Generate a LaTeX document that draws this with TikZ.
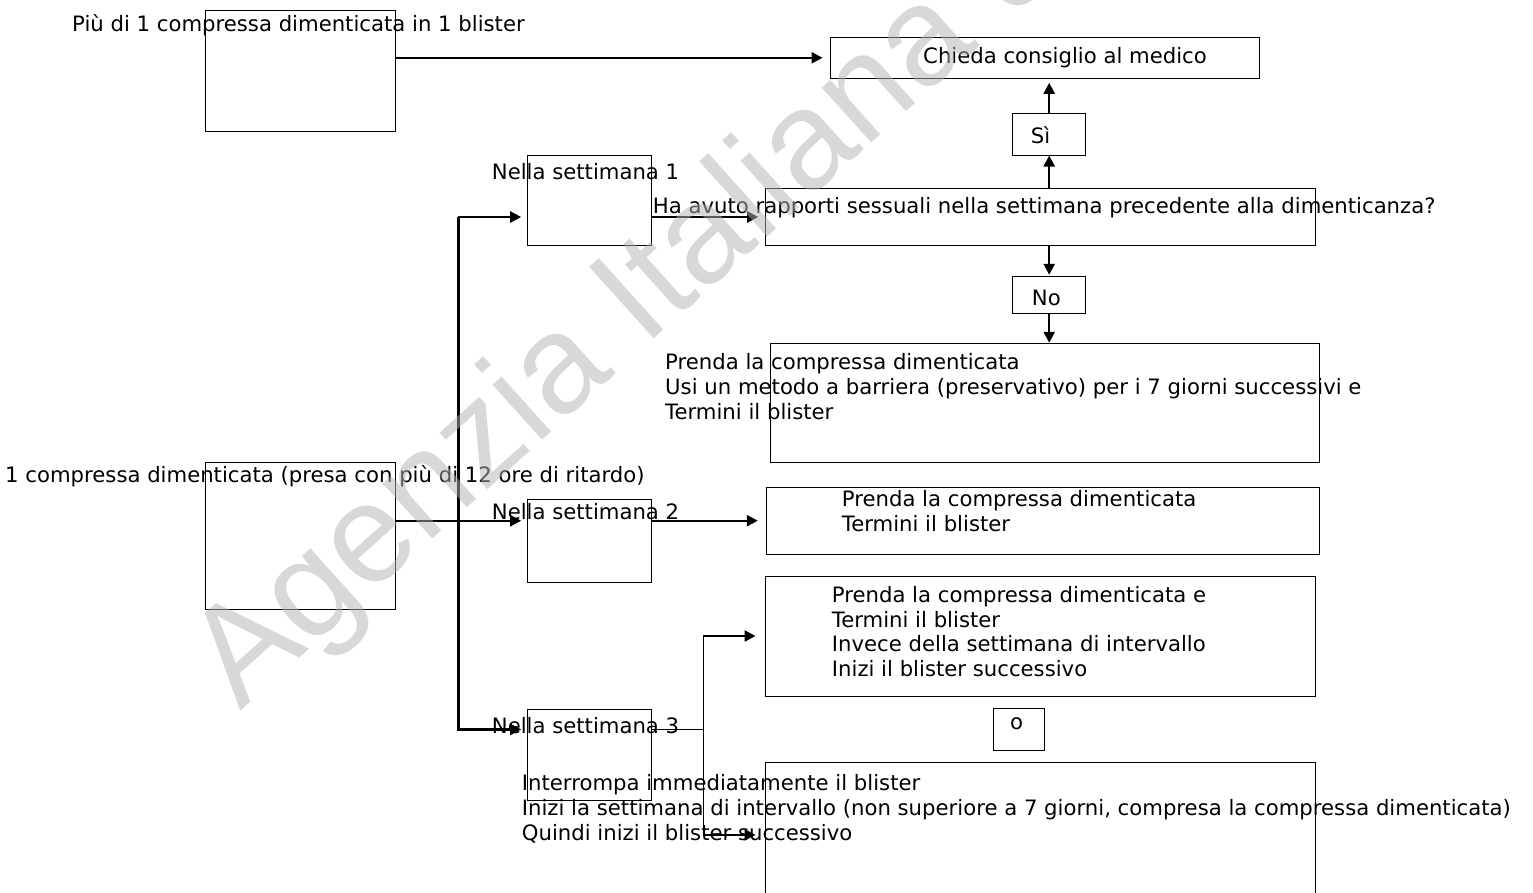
\documentclass[tikz,border=0pt]{standalone}
\usepackage{fontspec}
\setmainfont{DejaVu Sans}
\newfontfamily\wmfont{Liberation Sans}
\usetikzlibrary{arrows.meta}

\tikzset{
	kasten/.style={draw=black, line width=1pt, inner sep=0pt},
	txt/.style={anchor=base west, inner sep=0pt, font=\fontsize{21.2}{25}\selectfont},
	pfeil/.style={line width=2.4pt, -{Triangle[length=11pt, width=11pt]}},
	duenn/.style={line width=1.3pt},
	wasser/.style={anchor=base west, inner sep=0pt, text=black!30, text opacity=0.5,
		font=\wmfont\fontsize{140}{140}\selectfont}
}

\begin{document}
\begin{tikzpicture}[x=1pt, y=-1pt]
	\useasboundingbox (0,0) rectangle (1533,893);

	% Kaesten links
	\node[kasten, minimum width=190, minimum height=121] (piu) at (300.7, 71.2) {};
	\node[kasten, minimum width=190, minimum height=146.3] (una) at (300.7, 535.9) {};

	% Wochen
	\node[kasten, minimum width=124.7, minimum height=90.4] (s1) at (589.6, 200.5) {};
	\node[kasten, minimum width=124.4, minimum height=83] (s2) at (589.5, 540.8) {};
	\node[kasten, minimum width=124.4, minimum height=91] (s3) at (589.5, 754.5) {};

	% Kaesten rechts
	\node[kasten, minimum width=429.3, minimum height=41] (medico) at (1044.7, 57.8) {};
	\node[kasten, minimum width=73, minimum height=41.3] (si) at (1049.2, 134.4) {};
	\node[kasten, minimum width=549.6, minimum height=57.4] (frage) at (1040.5, 217) {};
	\node[kasten, minimum width=73, minimum height=37.4] (no) at (1049.2, 295) {};
	\node[kasten, minimum width=549.5, minimum height=119.4] (p1) at (1044.8, 403) {};
	\node[kasten, minimum width=553.3, minimum height=66.7] (p2) at (1042.7, 520.7) {};
	\node[kasten, minimum width=550, minimum height=120] (p3) at (1040.7, 636) {};
	\node[kasten, minimum width=51.3, minimum height=41.3] (oder) at (1018.7, 729.4) {};
	\node[kasten, minimum width=550, minimum height=144.3] (p4) at (1040.7, 834.9) {};

	% Texte
	\node[txt] (tpiu) at (72, 31.5) {Più di 1 compressa dimenticata in 1 blister};
	\node[txt] (tuna) at (5, 482.7) {1 compressa dimenticata (presa con più di 12 ore di ritardo)};
	\foreach \n/\y in {1/179.3, 2/519.3, 3/733.3}
		\node[txt] (ts\n) at (491.7, \y) {Nella settimana \n};
	\node[txt] (tmedico) at (923, 64) {Chieda consiglio al medico};
	\node[txt] (tsi) at (1030.7, 143.3) {Sì};
	\node[txt] (tfrage) at (652.7, 213.3) {Ha avuto rapporti sessuali nella settimana precedente alla dimenticanza?};
	\node[txt] (tno) at (1031.7, 305) {No};
	\foreach \t [count=\i from 0] in {Prenda la compressa dimenticata,
		Usi un metodo a barriera (preservativo) per i 7 giorni successivi e,
		Termini il blister}
		\node[txt] (ta\i) at (665, 369.3+25*\i) {\t};
	\foreach \t [count=\i from 0] in {Prenda la compressa dimenticata, Termini il blister}
		\node[txt] (tb\i) at (841.7, 506.7+25*\i) {\t};
	\foreach \t [count=\i from 0] in {Prenda la compressa dimenticata e, Termini il blister,
		Invece della settimana di intervallo, Inizi il blister successivo}
		\node[txt] (tc\i) at (831.7, 602.3+24.8*\i) {\t};
	\node[txt] (to) at (1010, 729.3) {o};
	\foreach \t [count=\i from 0] in {Interrompa immediatamente il blister,
		{Inizi la settimana di intervallo (non superiore a 7 giorni, compresa la compressa dimenticata)},
		Quindi inizi il blister successivo}
		\node[txt] (td\i) at (521.7, 790.7+24.7*\i) {\t};

	% Verbindungen
	\coordinate (gabel) at (458.3, 0);
	\coordinate (teil) at (703.3, 0);
	\draw[pfeil, shorten >=7pt] (piu.east |- medico.west) -- (medico.west);
	\draw[pfeil] (frage.north -| si) -- (si.south);
	\draw[pfeil, shorten >=4pt] (si.north) -- (si.north |- medico.south);
	\draw[pfeil, shorten >=1pt] (frage.south -| no) -- (no.north);
	\draw[pfeil] (no.south) -- (no.south |- p1.north);
	\draw[pfeil, shorten >=7pt] (s1.east |- frage.west) -- (frage.west);
	\draw[pfeil, shorten >=5.6pt] (gabel |- frage.west) -- (s1.west |- frage.west);
	\draw[pfeil, shorten >=5.6pt] (gabel |- frage.west) |- (s3.west |- oder.west);
	\draw[pfeil, shorten >=5.6pt] (una.east |- p2.west) -- (s2.west |- p2.west);
	\draw[pfeil, shorten >=7.7pt] (s2.east |- p2.west) -- (p2.west);
	\draw[duenn] (s3.east |- oder.west) -- (teil |- oder.west);
	\draw[duenn] (teil |- p3.west) -- (teil |- p4.west);
	\draw[pfeil, shorten >=9.7pt] (teil |- p3.west) -- (p3.west);
	\draw[pfeil, shorten >=9.7pt] (teil |- p4.west) -- (p4.west);

	% Wasserzeichen
	\node[wasser, rotate=42] (wz) at (240, 712) {Agenzia Italiana del Farmaco};
\end{tikzpicture}
\end{document}
